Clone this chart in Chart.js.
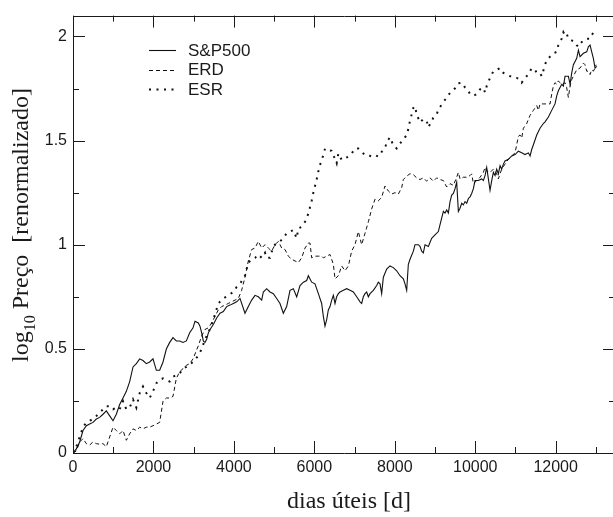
<!DOCTYPE html>
<html>
<head>
<meta charset="utf-8">
<title>log10 Preço</title>
<script src="https://cdn.jsdelivr.net/npm/chart.js@4.4.1/dist/chart.umd.min.js"></script>
<style>
  html, body { margin: 0; padding: 0; background: #fff; overflow: hidden; }
  #wrap { width: 613px; height: 517px; overflow: hidden; }
  #wrap canvas { display: block; }
</style>
</head>
<body>
<div id="wrap"><canvas id="chart" width="620" height="517"></canvas></div>
<script>
// S&P500 index, log10 of renormalised price vs trading days
const spX = [0, 83, 166, 249, 332, 414, 497, 580, 663, 746, 829, 912, 995, 1077, 1160, 1243, 1326, 1409, 1492, 1575,
  1658, 1740, 1823, 1906, 1989, 2072, 2155, 2238, 2321, 2404, 2486, 2569, 2652, 2735, 2818, 2901, 2984,
  3033, 3116, 3157, 3199, 3240, 3282, 3323, 3365, 3406, 3489, 3572, 3655, 3737, 3820, 3903, 3986, 4069, 4152, 4193, 4276,
  4359, 4442, 4525, 4608, 4691, 4732, 4815, 4898, 4981, 5064, 5146, 5229, 5312, 5395, 5478, 5561, 5644, 5727, 5810, 5851,
  5934, 6017, 6100,
  6182, 6224, 6265, 6307, 6348, 6390, 6431, 6473, 6514, 6555, 6597, 6638, 6721, 6804, 6887, 6970, 7053, 7136, 7177, 7218,
  7260, 7301, 7343, 7384, 7467, 7550, 7591, 7633, 7674, 7716, 7799, 7881, 7964, 8047, 8130, 8213, 8254, 8296, 8337, 8379,
  8462, 8503, 8586, 8627, 8669, 8710, 8752, 8835, 8917, 9000, 9083,
  9125, 9208, 9249, 9291, 9332, 9374, 9415, 9457, 9498, 9539, 9581, 9622, 9664, 9705, 9747, 9788, 9830, 9871, 9912, 9954,
  9995, 10078, 10161, 10202, 10244, 10285, 10327, 10368, 10410, 10451, 10493, 10534, 10575, 10617, 10658, 10700, 10741,
  10824, 10907, 10990, 11073, 11156, 11238, 11321, 11363, 11404, 11446, 11529, 11611, 11694, 11736, 11819, 11901, 11984,
  12026, 12067, 12150, 12192, 12233, 12316, 12358, 12399, 12440, 12523, 12565, 12606, 12689, 12772, 12813, 12855, 12896,
  12937, 12979, 13020];
const spY = [0, 0.02, 0.053, 0.108, 0.131, 0.139, 0.147, 0.163, 0.171, 0.186, 0.202, 0.178, 0.155, 0.186, 0.233, 0.264,
  0.296, 0.343, 0.413, 0.429, 0.452, 0.444, 0.429, 0.437, 0.452, 0.397, 0.397, 0.437, 0.499, 0.531, 0.554, 0.538, 0.538,
  0.531, 0.538, 0.577, 0.601,
  0.632, 0.624, 0.609, 0.577, 0.538, 0.531, 0.546, 0.577, 0.593, 0.617, 0.648, 0.671, 0.679, 0.703, 0.710, 0.718, 0.726,
  0.742, 0.718, 0.671, 0.703, 0.734, 0.757, 0.750, 0.734, 0.773, 0.789, 0.773, 0.765, 0.742, 0.718, 0.671, 0.703, 0.781,
  0.789, 0.750, 0.804, 0.820, 0.828, 0.851, 0.820, 0.812, 0.765,
  0.718, 0.656, 0.609, 0.640, 0.687, 0.703, 0.734, 0.757, 0.718, 0.750, 0.765, 0.773, 0.781, 0.789, 0.781, 0.773, 0.750,
  0.726, 0.718, 0.750, 0.765, 0.773, 0.750, 0.765, 0.781, 0.804, 0.820, 0.812, 0.765, 0.844, 0.883, 0.898, 0.890, 0.875,
  0.851, 0.836, 0.812, 0.781, 0.906, 0.930, 0.969, 1.000, 1.000, 0.992, 0.969, 0.961, 1.000, 0.992, 1.031, 1.047, 1.063,
  1.097, 1.160, 1.152, 1.167, 1.152, 1.207, 1.238, 1.246, 1.269, 1.300, 1.160, 1.175, 1.199, 1.191, 1.207, 1.199, 1.222,
  1.230, 1.246, 1.269, 1.308, 1.308, 1.316, 1.308, 1.332, 1.371, 1.316, 1.261, 1.308, 1.347, 1.332, 1.363, 1.340, 1.379,
  1.363, 1.387, 1.402, 1.410, 1.426, 1.433, 1.449, 1.441, 1.433, 1.441, 1.426, 1.457, 1.480, 1.527, 1.559, 1.582, 1.590,
  1.613, 1.645, 1.676, 1.715, 1.739, 1.770, 1.762, 1.809, 1.809, 1.770, 1.825, 1.864, 1.895, 1.934, 1.903, 1.919, 1.926,
  1.950, 1.958, 1.926, 1.895, 1.848, 1.856];

// ERD model series
const erdX = [0, 83, 166, 249, 332, 414, 497, 580, 663, 746, 829, 912, 995, 1077, 1160, 1243, 1326, 1409, 1492, 1575,
  1658, 1740, 1823, 1906, 1989, 2072, 2155, 2238, 2321, 2404, 2486, 2569, 2652, 2735, 2818, 2901, 2984,
  3116, 3199, 3282, 3365, 3447, 3530, 3613, 3696, 3779, 3862, 3945, 4028, 4110, 4193, 4276, 4359, 4442, 4525, 4608, 4691,
  4774, 4856, 4939, 5022, 5105, 5188, 5271, 5354, 5437, 5520, 5602, 5685, 5768, 5851, 5892, 5934, 6017, 6100, 6183,
  6224, 6307, 6390, 6473, 6514, 6597, 6680, 6763, 6846, 6928, 7011, 7094, 7177, 7260, 7343, 7426, 7509, 7591, 7674, 7757,
  7840, 7923, 8006, 8089, 8172, 8213, 8296, 8379, 8462, 8544, 8627, 8710, 8793, 8876, 8959, 9042, 9125,
  9208, 9291, 9374, 9457, 9539, 9581, 9622, 9705, 9788, 9871, 9912, 9954, 10037, 10120, 10202, 10244, 10285, 10368, 10451,
  10534, 10575, 10658, 10741, 10824, 10907, 10990, 11031, 11073, 11114, 11156, 11197, 11280, 11363, 11446, 11529, 11570,
  11611, 11694, 11777, 11860, 11901, 11943, 11984, 12026, 12067, 12150, 12233, 12274, 12316, 12358, 12399, 12440, 12523,
  12606, 12689, 12730, 12772, 12813, 12855, 12896, 12937, 12979, 13004];
const erdY = [0, 0.01, 0.053, 0.069, 0.045, 0.038, 0.053, 0.045, 0.042, 0.045, 0.030, 0.077, 0.124, 0.108, 0.092, 0.108,
  0.061, 0.092, 0.116, 0.108, 0.124, 0.116, 0.124, 0.124, 0.131, 0.139, 0.147, 0.249, 0.264, 0.264, 0.272, 0.358, 0.390,
  0.405, 0.421, 0.429, 0.452,
  0.515, 0.562, 0.593, 0.601, 0.624, 0.656, 0.687, 0.703, 0.710, 0.718, 0.726, 0.734, 0.742, 0.781, 0.844, 0.922, 0.977,
  0.984, 1.016, 0.984, 1.000, 0.984, 0.969, 1.000, 1.016, 0.984, 0.977, 0.945, 0.930, 0.922, 0.914, 0.937, 0.984, 1.008,
  1.008, 0.937, 0.945, 0.945, 0.945,
  0.937, 0.945, 0.953, 0.906, 0.836, 0.851, 0.898, 0.875, 0.898, 0.969, 1.000, 1.063, 1.000, 1.055, 1.110, 1.172, 1.219,
  1.211, 1.227, 1.282, 1.258, 1.243, 1.250, 1.243, 1.274, 1.313, 1.329, 1.341, 1.336, 1.321, 1.313, 1.321, 1.305, 1.321,
  1.305, 1.321, 1.313,
  1.308, 1.277, 1.293, 1.285, 1.324, 1.347, 1.316, 1.324, 1.324, 1.332, 1.340, 1.293, 1.308, 1.324, 1.347, 1.371, 1.355,
  1.347, 1.363, 1.340, 1.316, 1.363, 1.387, 1.410, 1.426, 1.441, 1.480, 1.520, 1.527, 1.512, 1.559, 1.582, 1.621, 1.645,
  1.668, 1.645, 1.676, 1.676, 1.676, 1.676, 1.723, 1.762, 1.778, 1.770, 1.786, 1.770, 1.778, 1.754, 1.707, 1.762, 1.793,
  1.809, 1.840, 1.848, 1.872, 1.864, 1.833, 1.833, 1.817, 1.840, 1.833, 1.848, 1.864];

// ESR model series
const esrX = [0, 83, 166, 249, 332, 414, 497, 580, 663, 829, 912, 995, 1077, 1160, 1243, 1326, 1409, 1492, 1575, 1658,
  1740, 1823, 1906, 1989, 2072, 2155, 2238, 2321, 2404, 2486, 2652, 2735, 2818, 2984,
  3116, 3199, 3282, 3365, 3489, 3613, 3737, 3862, 3986, 4069, 4152, 4276, 4317, 4359, 4442, 4525, 4608, 4691, 4774, 4815,
  4898, 4981, 5064, 5146, 5229, 5312, 5395, 5478, 5561, 5602, 5685, 5768, 5851, 5892, 5934, 5975, 6017, 6058, 6100, 6141,
  6183, 6224, 6266, 6348, 6431,
  6473, 6555, 6597, 6680, 6763, 6846, 6928, 7011, 7094, 7177, 7260, 7343, 7426, 7509, 7591, 7674, 7757, 7799, 7881, 7964,
  8047, 8130, 8213, 8296, 8337, 8379, 8462, 8503, 8544, 8627, 8710, 8793, 8835, 8876, 8959, 9042, 9083, 9166, 9249, 9332,
  9415, 9498, 9580,
  9664, 9705, 9747, 9830, 9871, 9954, 10037, 10120, 10202, 10244, 10285, 10368, 10451, 10534, 10617, 10700, 10783, 10866,
  10949, 11031, 11114, 11156, 11238, 11321, 11404, 11487, 11529, 11611, 11653, 11736, 11777, 11860, 11943, 12026, 12067,
  12150, 12192, 12233, 12274, 12316, 12399, 12482, 12523, 12565, 12648, 12689, 12772, 12855, 12896, 12937, 12979];
const esrY = [0, 0.030, 0.077, 0.124, 0.147, 0.155, 0.163, 0.178, 0.194, 0.225, 0.225, 0.210, 0.218, 0.210, 0.249, 0.210,
  0.218, 0.257, 0.218, 0.288, 0.319, 0.288, 0.264, 0.296, 0.335, 0.351, 0.358, 0.351, 0.343, 0.366, 0.382, 0.405, 0.413,
  0.437,
  0.468, 0.499, 0.546, 0.577, 0.640, 0.718, 0.742, 0.757, 0.773, 0.797, 0.812, 0.851, 0.883, 0.914, 0.930, 0.937, 0.953,
  0.937, 0.961, 0.937, 0.937, 0.992, 1.008, 1.016, 1.031, 1.055, 1.063, 1.070, 1.031, 1.078, 1.086, 1.110, 1.149, 1.180,
  1.211, 1.250, 1.282, 1.313, 1.352, 1.383, 1.407, 1.430, 1.462, 1.454, 1.451,
  1.430, 1.391, 1.438, 1.407, 1.415, 1.423, 1.438, 1.462, 1.462, 1.446, 1.430, 1.430, 1.423, 1.430, 1.423, 1.446, 1.462,
  1.493, 1.516, 1.477, 1.462, 1.485, 1.509, 1.524, 1.556, 1.595, 1.657, 1.665, 1.626, 1.587, 1.603, 1.595, 1.563, 1.579,
  1.610, 1.626, 1.649, 1.673, 1.696, 1.720, 1.735, 1.751, 1.775,
  1.778, 1.770, 1.754, 1.739, 1.723, 1.715, 1.723, 1.746, 1.754, 1.731, 1.762, 1.801, 1.833, 1.840, 1.848, 1.825, 1.817,
  1.809, 1.801, 1.801, 1.793, 1.778, 1.801, 1.817, 1.848, 1.840, 1.825, 1.825, 1.809, 1.864, 1.887, 1.903, 1.919, 1.926,
  1.958, 1.989, 2.020, 2.005, 2.013, 1.989, 1.981, 1.973, 1.958, 1.950, 1.973, 1.981, 1.989, 1.989, 2.005, 2.020, 2.036];

const seriesNames = ['S&P500', 'ERD', 'ESR'];

// tick positions (major ones carry a label)
const xTicks = [0, 1000, 2000, 3000, 4000, 5000, 6000, 7000, 8000, 9000, 10000, 11000, 12000, 13000];
const yTicks = [0, 0.25, 0.5, 0.75, 1, 1.25, 1.5, 1.75, 2];
const xMajor = [0, 2000, 4000, 6000, 8000, 10000, 12000];
const yMajor = [0, 0.5, 1, 1.5, 2];

const X_MAX = 13475;
const Y_MAX = 2.1;

const toPoints = (xs, ys) => xs.map((x, i) => ({ x: x, y: ys[i] }));

const SANS = "'Liberation Sans', Arial, Helvetica, sans-serif";
const SERIF = "'Liberation Serif', 'Times New Roman', Times, serif";
const INK = '#1a1a1a';

// frame with inward ticks on all four sides
const frameTicks = {
    id: 'frameTicks',
    afterDraw(chart) {
        const { ctx, chartArea: a, scales: { x, y } } = chart;
        ctx.save();
        ctx.strokeStyle = INK;
        ctx.lineWidth = 1;
        ctx.beginPath();
        ctx.rect(Math.round(a.left) + 0.5, Math.round(a.top) + 0.5,
            Math.round(a.right - a.left), Math.round(a.bottom - a.top));

        x.ticks.forEach(t => {
            const len = xMajor.includes(t.value) ? 12 : 6;
            const px = Math.round(x.getPixelForValue(t.value)) + 0.5;
            ctx.moveTo(px, a.bottom); ctx.lineTo(px, a.bottom - len);
            ctx.moveTo(px, a.top); ctx.lineTo(px, a.top + len);
        });
        y.ticks.forEach(t => {
            const len = yMajor.includes(t.value) ? 12 : 6;
            const py = Math.round(y.getPixelForValue(t.value)) + 0.5;
            ctx.moveTo(a.left, py); ctx.lineTo(a.left + len, py);
            ctx.moveTo(a.right, py); ctx.lineTo(a.right - len, py);
        });
        ctx.stroke();
        ctx.restore();
    }
};

// axis titles, the y one with a subscripted "10"
const axisTitles = {
    id: 'axisTitles',
    afterDraw(chart) {
        const { ctx } = chart;
        ctx.save();
        ctx.fillStyle = INK;
        ctx.textBaseline = 'alphabetic';

        ctx.font = '24px ' + SERIF;
        ctx.textAlign = 'center';
        ctx.fillText('dias úteis [d]', 349, 508);

        ctx.translate(28, 225);
        ctx.rotate(-Math.PI / 2);
        ctx.textAlign = 'left';
        const big = '24px ' + SERIF, small = '16px ' + SERIF;
        const parts = [['log', big, 0], ['10', small, 7], [' Preço  [renormalizado]', big, 0]];
        let total = 0;
        parts.forEach(p => { ctx.font = p[1]; total += ctx.measureText(p[0]).width; });
        let cx = -total / 2;
        parts.forEach(p => {
            ctx.font = p[1];
            ctx.fillText(p[0], cx, p[2]);
            cx += ctx.measureText(p[0]).width;
        });
        ctx.restore();
    }
};

// legend drawn inside the plot, top left
const insideLegend = {
    id: 'insideLegend',
    afterDraw(chart) {
        const { ctx } = chart;
        ctx.save();
        chart.data.datasets.forEach((ds, i) => {
            const ly = 50 + i * 19.7;
            ctx.strokeStyle = ds.borderColor;
            ctx.lineWidth = ds.borderWidth;
            ctx.setLineDash(ds.borderDash || []);
            ctx.beginPath();
            ctx.moveTo(149, Math.round(ly) + 0.5);
            ctx.lineTo(176, Math.round(ly) + 0.5);
            ctx.stroke();
            ctx.setLineDash([]);
            ctx.fillStyle = INK;
            ctx.font = '17px ' + SANS;
            ctx.textBaseline = 'middle';
            ctx.textAlign = 'left';
            ctx.fillText(ds.label, 188, ly + 1);
        });
        ctx.restore();
    }
};

new Chart(document.getElementById('chart'), {
    type: 'line',
    data: {
        datasets: [{
            label: seriesNames[0],
            data: toPoints(spX, spY),
            borderColor: '#111',
            borderWidth: 1.1,
            borderDash: []
        }, {
            label: seriesNames[1],
            data: toPoints(erdX, erdY),
            borderColor: '#111',
            borderWidth: 1,
            borderDash: [4, 3]
        }, {
            label: seriesNames[2],
            data: toPoints(esrX, esrY),
            borderColor: '#111',
            borderWidth: 2,
            borderDash: [2, 5.5]
        }]
    },
    options: {
        responsive: false,
        animation: false,
        devicePixelRatio: 1,
        parsing: false,
        elements: {
            point: { radius: 0 },
            line: { tension: 0, fill: false, borderCapStyle: 'butt' }
        },
        layout: { padding: { left: 0, top: 6, right: 5, bottom: 0 } },
        plugins: {
            legend: { display: false },
            tooltip: { enabled: false }
        },
        scales: {
            x: {
                type: 'linear',
                min: 0,
                max: X_MAX,
                afterBuildTicks: s => { s.ticks = xTicks.map(v => ({ value: v })); },
                afterFit: s => { s.height = 64; },
                grid: { display: false, drawTicks: false },
                border: { display: false },
                ticks: {
                    autoSkip: false,
                    maxRotation: 0,
                    padding: 5,
                    color: INK,
                    font: { family: SANS, size: 16 },
                    callback: v => (xMajor.includes(v) ? String(v) : '')
                }
            },
            y: {
                type: 'linear',
                min: 0,
                max: Y_MAX,
                afterBuildTicks: s => { s.ticks = yTicks.map(v => ({ value: v })); },
                afterFit: s => { s.width = 73; },
                grid: { display: false, drawTicks: false },
                border: { display: false },
                ticks: {
                    autoSkip: false,
                    padding: 6,
                    color: INK,
                    font: { family: SANS, size: 16 },
                    callback: v => (yMajor.includes(v) ? String(v) : '')
                }
            }
        }
    },
    plugins: [frameTicks, axisTitles, insideLegend]
});
</script>
</body>
</html>
